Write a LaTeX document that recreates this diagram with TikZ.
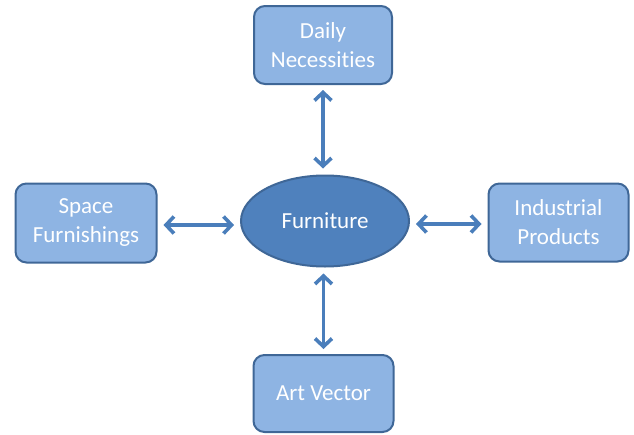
\documentclass[tikz,border=0pt]{standalone}
\usepackage{fontspec}
\setmainfont{Carlito}[Ligatures={NoCommon,NoContextual}]
\usetikzlibrary{arrows.meta,shapes.geometric}
\definecolor{boxfill}{HTML}{8EB4E3}
\definecolor{boxedge}{HTML}{3F6797}
\definecolor{ellfill}{HTML}{4F81BD}
\definecolor{arrcol}{HTML}{4A7EBB}
\tikzset{
  box/.style={draw=boxedge, line width=2pt, fill=boxfill, rounded corners=11pt,
    text=white, font=\fontsize{23}{29}\selectfont, align=center, inner sep=0pt},
  ell/.style={draw=boxedge, line width=2pt, fill=ellfill, ellipse,
    text=white, font=\fontsize{23}{29}\selectfont, inner sep=0pt},
  link/.style={draw=arrcol, line width=3.6pt,
    {Straight Barb[length=8pt,width=17pt,line width=3.6pt]}-{Straight Barb[length=8pt,width=17pt,line width=3.6pt]}}
}
\begin{document}
\begin{tikzpicture}[x=1pt,y=-1pt]
\useasboundingbox (0,0) rectangle (634,434);
\node[ell, minimum width=168pt, minimum height=91pt] (f) at (325,221) {Furniture};
\node[box, minimum width=138pt, minimum height=78pt] (d) at (323,45) {Daily\\Necessities};
\node[box, minimum width=141pt, minimum height=79pt] (s) at (86,223) {Space\\Furnishings};
\node[box, minimum width=140pt, minimum height=78pt] (i) at (558.5,222.5) {Industrial\\Products};
\node[box, minimum width=140pt, minimum height=77pt] (a) at (323.5,393.5) {Art Vector};
\draw[link] ([yshift=-5pt]d.south) -- ([yshift=6pt]d.south |- f.north);
\draw[link] ([yshift=-6pt]a.north |- f.south) -- ([yshift=5pt]a.north);
\draw[link] ([xshift=6pt]s.east |- 0,225) -- ([xshift=-6pt]f.west |- 0,225);
\draw[link] ([xshift=6pt]f.east |- 0,224) -- ([xshift=-6pt]i.west |- 0,224);
\end{tikzpicture}
\end{document}
